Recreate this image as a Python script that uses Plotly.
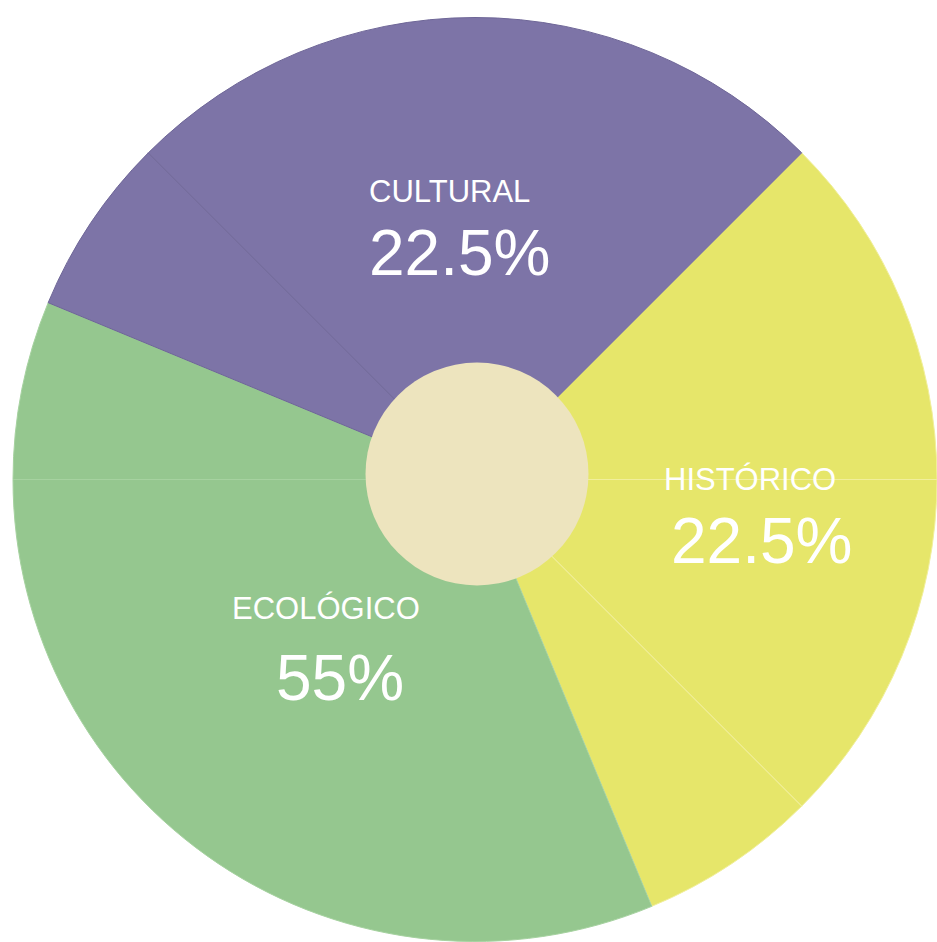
import plotly.graph_objects as go

# Pie segments (degrees of the circle), clockwise starting at 45° from 12 o'clock
segment_category = ["Histórico", "Histórico", "Histórico", "Ecológico", "Ecológico", "Cultural", "Cultural"]
segment_size = [45, 45, 22.5, 112.5, 22.5, 22.5, 90]

# Labels shown on the chart
label_names = ["CULTURAL", "HISTÓRICO", "ECOLÓGICO"]
label_percent = ["22.5%", "22.5%", "55%"]

fill_colors = {"Cultural": "#7D74A7", "Histórico": "#E6E66A", "Ecológico": "#95C78F"}
seam_colors = {"Cultural": "#6E6697", "Histórico": "#F1EF9C", "Ecológico": "#A6D2A0"}

W, H = 937, 942
ML, MR, MT, MB = 13, 0, 17, 0
PW, PH = W - ML - MR, H - MT - MB


def px(x):
    return (x - ML) / PW


def py(y):
    return (H - MB - y) / PH


fig = go.Figure()
fig.add_trace(go.Pie(
    labels=[f"{c} {i}" for i, c in enumerate(segment_category)],
    values=segment_size,
    sort=False,
    direction="clockwise",
    rotation=45,
    textinfo="none",
    hoverinfo="skip",
    showlegend=False,
    marker=dict(
        colors=[fill_colors[c] for c in segment_category],
        line=dict(color=[seam_colors[c] for c in segment_category], width=1),
    ),
))

# center disc
cx, cy, cr = 477, 474, 111.5
fig.add_shape(type="circle", xref="paper", yref="paper",
              x0=px(cx - cr), x1=px(cx + cr), y0=py(cy + cr), y1=py(cy - cr),
              fillcolor="#EDE4BE", line=dict(width=0), layer="above")

font_family = "Liberation Sans, Arial, sans-serif"
name_pos = [(449, 192), (750, 479), (326, 608)]
pct_pos = [(459, 253), (761, 541), (340, 678)]
for name, pct, (nx, ny), (qx, qy) in zip(label_names, label_percent, name_pos, pct_pos):
    fig.add_annotation(text=name, x=px(nx), y=py(ny), xref="paper", yref="paper",
                       showarrow=False, xanchor="center", yanchor="middle",
                       font=dict(family=font_family, size=31, color="white"))
    fig.add_annotation(text=pct, x=px(qx), y=py(qy), xref="paper", yref="paper",
                       showarrow=False, xanchor="center", yanchor="middle",
                       font=dict(family=font_family, size=64, color="white"))

fig.update_layout(
    width=W, height=H,
    margin=dict(l=ML, r=MR, t=MT, b=MB, pad=0),
    paper_bgcolor="white", plot_bgcolor="white",
    showlegend=False,
)

fig.write_html("out.html",
               config={"displayModeBar": False},
               post_script="document.body.style.margin='0';document.body.style.overflow='hidden';")
